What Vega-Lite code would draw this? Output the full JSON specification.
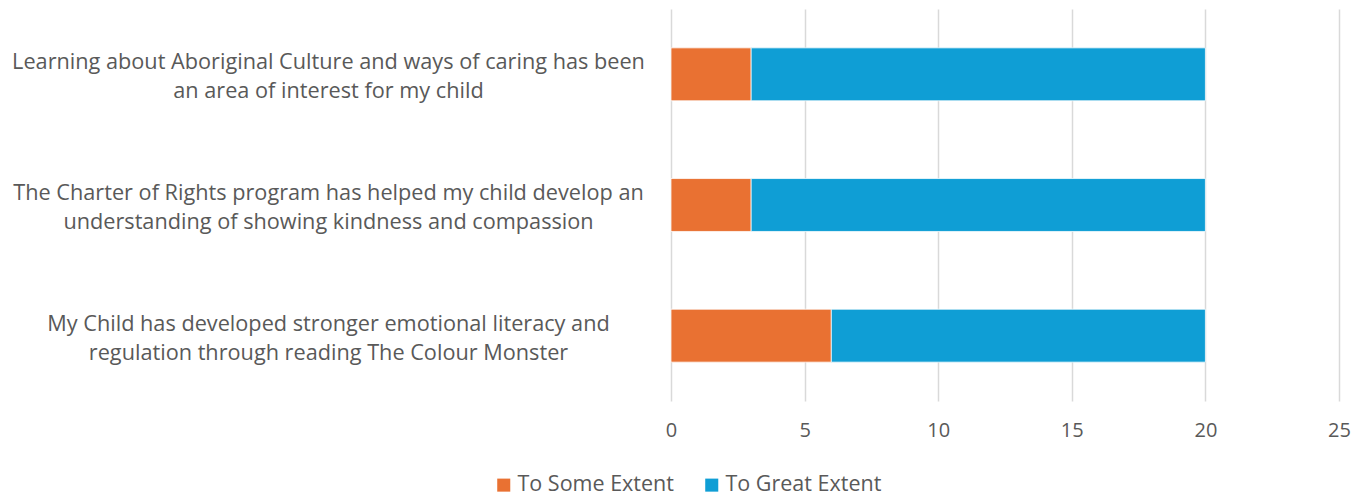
{
  "$schema": "https://vega.github.io/schema/vega-lite/v6.json",
  "width": 668,
  "height": 392,
  "autosize": {"type": "none"},
  "padding": {"left": 671, "top": 9, "right": 27, "bottom": 92},
  "background": "white",
  "data": {
    "values": [
      {"question": "Learning about Aboriginal Culture and ways of caring has been\nan area of interest for my child", "response": "To Some Extent", "order": 1, "count": 3},
      {"question": "Learning about Aboriginal Culture and ways of caring has been\nan area of interest for my child", "response": "To Great Extent", "order": 2, "count": 17},
      {"question": "The Charter of Rights program has helped my child develop an\nunderstanding of showing kindness and compassion", "response": "To Some Extent", "order": 1, "count": 3},
      {"question": "The Charter of Rights program has helped my child develop an\nunderstanding of showing kindness and compassion", "response": "To Great Extent", "order": 2, "count": 17},
      {"question": "My Child has developed stronger emotional literacy and\nregulation through reading The Colour Monster", "response": "To Some Extent", "order": 1, "count": 6},
      {"question": "My Child has developed stronger emotional literacy and\nregulation through reading The Colour Monster", "response": "To Great Extent", "order": 2, "count": 14}
    ]
  },
  "mark": {"type": "bar", "stroke": "white", "strokeWidth": 0.75},
  "encoding": {
    "y": {
      "field": "question",
      "type": "nominal",
      "sort": null,
      "scale": {"paddingInner": 0.595, "paddingOuter": 0.2975},
      "axis": {
        "title": null,
        "ticks": false,
        "domain": false,
        "grid": false,
        "labelExpr": "split(datum.label, '\\n')",
        "labelAlign": "center",
        "labelBaseline": "middle",
        "labelPadding": 343,
        "labelOffset": -12,
        "labelFont": "Open Sans",
        "labelFontSize": 21.7,
        "labelLineHeight": 29,
        "labelColor": "#595959",
        "labelLimit": 0,
        "encode": {
          "labels": {
            "update": {
              "dx": {"signal": "datum.index > 0.9 ? 34 : 0"}
            }
          }
        }
      }
    },
    "x": {
      "field": "count",
      "type": "quantitative",
      "stack": "zero",
      "scale": {"domain": [0, 25]},
      "axis": {
        "title": null,
        "values": [0, 5, 10, 15, 20, 25],
        "ticks": false,
        "domain": false,
        "grid": true,
        "gridColor": "#D9D9D9",
        "gridWidth": 1.5,
        "labelFont": "Open Sans",
        "labelFontSize": 20,
        "labelColor": "#595959",
        "labelPadding": 19,
        "labelFlush": false
      }
    },
    "color": {
      "field": "response",
      "type": "nominal",
      "sort": ["To Some Extent", "To Great Extent"],
      "scale": {"domain": ["To Some Extent", "To Great Extent"], "range": ["#E97132", "#0F9ED5"]},
      "legend": {
        "title": null,
        "orient": "none",
        "direction": "horizontal",
        "legendX": -178,
        "legendY": 465,
        "symbolType": "square",
        "symbolSize": 170,
        "symbolStrokeWidth": 0,
        "labelFont": "Open Sans",
        "labelFontSize": 21.5,
        "labelColor": "#595959",
        "labelOffset": 3,
        "labelLimit": 0,
        "columnPadding": 27
      }
    },
    "order": {"field": "order", "type": "quantitative"}
  },
  "config": {"view": {"stroke": null}}
}
